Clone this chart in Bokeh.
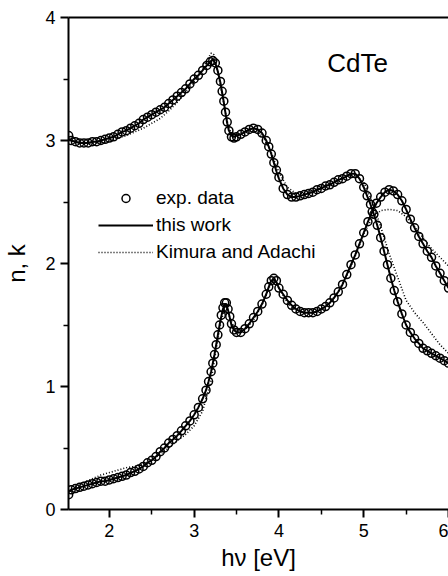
from bokeh.plotting import figure
from bokeh.models import (ColumnDataSource, FixedTicker, LinearAxis, Legend,
                          LegendItem, Label, Range1d)
from bokeh.embed import file_html
from bokeh.resources import INLINE

# ---------------- data ----------------
e_n = [1.52, 1.55, 1.60, 1.65, 1.70, 1.75, 1.80, 1.85, 1.90, 1.95,
       2.00, 2.05, 2.10, 2.15, 2.20, 2.25, 2.30, 2.35, 2.40, 2.45,
       2.50, 2.55, 2.60, 2.65, 2.70, 2.75, 2.80, 2.85, 2.90, 2.95,
       3.00, 3.05, 3.10, 3.15, 3.19, 3.22, 3.25, 3.28, 3.31, 3.33,
       3.35, 3.37, 3.39, 3.41, 3.44, 3.47, 3.50, 3.55, 3.60, 3.65,
       3.70, 3.75, 3.80, 3.85, 3.88, 3.91, 3.94, 3.97, 4.00, 4.05,
       4.10, 4.15, 4.20, 4.25, 4.30, 4.35, 4.40, 4.45, 4.50, 4.55,
       4.60, 4.65, 4.70, 4.75, 4.80, 4.85, 4.90, 4.95, 5.00, 5.04,
       5.08, 5.12, 5.16, 5.20, 5.24, 5.28, 5.32, 5.36, 5.40, 5.45,
       5.50, 5.55, 5.60, 5.65, 5.70, 5.75, 5.80, 5.85, 5.90, 5.95,
       6.00]
n_exp = [3.04, 3.00, 2.99, 2.98, 2.98, 2.98, 2.99, 2.99, 3.00, 3.01,
         3.02, 3.03, 3.05, 3.07, 3.08, 3.10, 3.12, 3.14, 3.17, 3.19,
         3.21, 3.23, 3.25, 3.27, 3.30, 3.33, 3.36, 3.39, 3.42, 3.46,
         3.50, 3.53, 3.57, 3.61, 3.64, 3.65, 3.63, 3.57, 3.48, 3.40,
         3.32, 3.23, 3.15, 3.08, 3.03, 3.02, 3.03, 3.05, 3.07, 3.09,
         3.10, 3.09, 3.06, 3.00, 2.95, 2.89, 2.82, 2.76, 2.70, 2.61,
         2.56, 2.54, 2.54, 2.55, 2.56, 2.57, 2.58, 2.60, 2.61, 2.63,
         2.64, 2.66, 2.68, 2.69, 2.71, 2.73, 2.73, 2.69, 2.62, 2.55,
         2.48, 2.40, 2.31, 2.21, 2.10, 1.99, 1.88, 1.78, 1.69, 1.59,
         1.50, 1.44, 1.39, 1.35, 1.31, 1.29, 1.27, 1.25, 1.23, 1.21,
         1.19]
n_fit = [3.01, 3.00, 2.99, 2.98, 2.98, 2.98, 2.99, 2.99, 3.00, 3.01,
         3.02, 3.03, 3.05, 3.07, 3.08, 3.10, 3.12, 3.14, 3.17, 3.19,
         3.21, 3.23, 3.25, 3.27, 3.30, 3.33, 3.36, 3.39, 3.42, 3.46,
         3.50, 3.53, 3.57, 3.61, 3.64, 3.66, 3.63, 3.56, 3.47, 3.39,
         3.31, 3.22, 3.14, 3.08, 3.04, 3.03, 3.04, 3.05, 3.07, 3.09,
         3.10, 3.09, 3.06, 3.00, 2.95, 2.89, 2.82, 2.75, 2.69, 2.61,
         2.56, 2.54, 2.54, 2.55, 2.56, 2.57, 2.58, 2.60, 2.61, 2.63,
         2.64, 2.66, 2.68, 2.69, 2.71, 2.73, 2.73, 2.69, 2.62, 2.55,
         2.48, 2.40, 2.31, 2.21, 2.10, 1.99, 1.88, 1.78, 1.69, 1.59,
         1.50, 1.44, 1.39, 1.35, 1.31, 1.29, 1.27, 1.25, 1.23, 1.21,
         1.19]

e_k = [1.52, 1.55, 1.60, 1.65, 1.70, 1.75, 1.80, 1.85, 1.90, 1.95,
       2.00, 2.05, 2.10, 2.15, 2.20, 2.25, 2.30, 2.35, 2.40, 2.45,
       2.50, 2.55, 2.60, 2.65, 2.70, 2.75, 2.80, 2.85, 2.90, 2.95,
       3.00, 3.05, 3.10, 3.14, 3.17, 3.20, 3.22, 3.24, 3.26, 3.28,
       3.30, 3.32, 3.34, 3.36, 3.38, 3.40, 3.42, 3.44, 3.47, 3.50,
       3.55, 3.60, 3.65, 3.70, 3.75, 3.80, 3.85, 3.88, 3.91, 3.94,
       3.97, 4.00, 4.05, 4.10, 4.15, 4.20, 4.25, 4.30, 4.35, 4.40,
       4.45, 4.50, 4.55, 4.60, 4.65, 4.70, 4.75, 4.80, 4.85, 4.90,
       4.95, 5.00, 5.05, 5.10, 5.15, 5.20, 5.25, 5.30, 5.35, 5.40,
       5.45, 5.50, 5.55, 5.60, 5.65, 5.70, 5.75, 5.80, 5.85, 5.90,
       5.95, 6.00]
k_exp = [0.12, 0.16, 0.17, 0.18, 0.19, 0.20, 0.21, 0.22, 0.23, 0.23,
         0.24, 0.25, 0.26, 0.27, 0.28, 0.30, 0.31, 0.33, 0.35, 0.38,
         0.40, 0.43, 0.47, 0.50, 0.54, 0.57, 0.60, 0.64, 0.68, 0.72,
         0.77, 0.83, 0.90, 0.97, 1.04, 1.12, 1.19, 1.26, 1.34, 1.42,
         1.50, 1.58, 1.64, 1.68, 1.68, 1.63, 1.57, 1.51, 1.46, 1.44,
         1.44, 1.47, 1.51, 1.56, 1.61, 1.67, 1.75, 1.81, 1.86, 1.88,
         1.86, 1.80, 1.75, 1.70, 1.66, 1.63, 1.61, 1.60, 1.60, 1.60,
         1.61, 1.63, 1.65, 1.68, 1.72, 1.77, 1.83, 1.91, 1.99, 2.07,
         2.16, 2.25, 2.34, 2.42, 2.49, 2.54, 2.58, 2.60, 2.59, 2.56,
         2.51, 2.44, 2.36, 2.29, 2.22, 2.16, 2.10, 2.05, 1.98, 1.92,
         1.86, 1.80]
k_fit = [0.15, 0.16, 0.17, 0.18, 0.19, 0.20, 0.21, 0.22, 0.23, 0.23,
         0.24, 0.25, 0.26, 0.27, 0.28, 0.30, 0.31, 0.33, 0.35, 0.38,
         0.40, 0.43, 0.47, 0.50, 0.54, 0.57, 0.60, 0.64, 0.68, 0.72,
         0.77, 0.83, 0.90, 0.97, 1.04, 1.12, 1.19, 1.26, 1.34, 1.42,
         1.50, 1.57, 1.63, 1.67, 1.67, 1.62, 1.56, 1.50, 1.46, 1.44,
         1.44, 1.47, 1.51, 1.56, 1.61, 1.67, 1.75, 1.81, 1.86, 1.87,
         1.85, 1.80, 1.75, 1.70, 1.66, 1.63, 1.61, 1.60, 1.60, 1.60,
         1.61, 1.63, 1.65, 1.68, 1.72, 1.77, 1.83, 1.91, 1.99, 2.07,
         2.16, 2.25, 2.34, 2.42, 2.49, 2.54, 2.58, 2.60, 2.59, 2.56,
         2.51, 2.44, 2.36, 2.29, 2.22, 2.16, 2.10, 2.05, 1.98, 1.92,
         1.86, 1.80]

e_km_n = [1.52, 1.6, 1.7, 1.8, 1.9, 2.0, 2.1, 2.2, 2.3, 2.4, 2.5, 2.6, 2.7,
          2.8, 2.9, 3.0, 3.1, 3.15, 3.2, 3.23, 3.26, 3.3, 3.35, 3.4, 3.45,
          3.5, 3.6, 3.7, 3.8, 3.9, 4.0, 4.1, 4.2, 4.3, 4.4, 4.5, 4.6, 4.7,
          4.8, 4.9, 5.0, 5.1, 5.2, 5.3, 5.4, 5.5, 5.6, 5.7, 5.8, 5.9, 6.0]
n_km = [3.00, 2.99, 2.98, 2.98, 2.98, 2.99, 3.02, 3.04, 3.07, 3.10, 3.14,
        3.18, 3.24, 3.31, 3.39, 3.48, 3.58, 3.65, 3.71, 3.70, 3.62, 3.48,
        3.30, 3.12, 3.04, 3.04, 3.07, 3.08, 3.04, 2.92, 2.74, 2.62, 2.57,
        2.57, 2.59, 2.62, 2.65, 2.68, 2.71, 2.72, 2.66, 2.50, 2.30, 2.08,
        1.89, 1.70, 1.60, 1.52, 1.43, 1.34, 1.27]

e_km_k = [1.52, 1.6, 1.7, 1.8, 1.9, 2.0, 2.1, 2.2, 2.3, 2.4, 2.5, 2.6, 2.7,
          2.8, 2.9, 3.0, 3.1, 3.2, 3.25, 3.3, 3.35, 3.4, 3.45, 3.5, 3.6,
          3.7, 3.8, 3.9, 3.95, 4.0, 4.1, 4.2, 4.3, 4.4, 4.5, 4.6, 4.7, 4.8,
          4.9, 5.0, 5.1, 5.2, 5.3, 5.4, 5.5, 5.6, 5.7, 5.8, 5.9, 6.0]
k_km = [0.14, 0.18, 0.22, 0.25, 0.28, 0.30, 0.32, 0.34, 0.35, 0.37, 0.40,
        0.45, 0.50, 0.56, 0.61, 0.68, 0.80, 1.05, 1.26, 1.47, 1.62, 1.60,
        1.51, 1.45, 1.46, 1.54, 1.66, 1.83, 1.87, 1.80, 1.68, 1.62, 1.60,
        1.60, 1.63, 1.68, 1.77, 1.90, 2.06, 2.24, 2.37, 2.43, 2.44, 2.43,
        2.38, 2.30, 2.21, 2.12, 2.05, 1.98]

x_ticks = [2, 3, 4, 5, 6]
x_minor = [2.5, 3.5, 4.5, 5.5]
y_ticks = [0, 1, 2, 3, 4]
y_minor = [0.5, 1.5, 2.5, 3.5]
legend_labels = ["exp. data", "this work", "Kimura and Adachi"]
title_text = "CdTe"

FONT = "Liberation Sans"

# ---------------- figure ----------------
p = figure(width=448, height=576, output_backend="svg", toolbar_location=None,
           x_range=Range1d(1.518, 6.0), y_range=Range1d(0, 4),
           min_border_left=67, min_border_right=0, min_border_top=17,
           min_border_bottom=67)
p.outline_line_color = None
p.grid.visible = False
p.background_fill_color = "white"
p.border_fill_color = "white"

src_n = ColumnDataSource(dict(x=e_n, y=n_exp, f=n_fit))
src_k = ColumnDataSource(dict(x=e_k, y=k_exp, f=k_fit))
src_kn = ColumnDataSource(dict(x=e_km_n, y=n_km))
src_kk = ColumnDataSource(dict(x=e_km_k, y=k_km))

sc_n = p.scatter("x", "y", source=src_n, marker="circle", size=8,
                 fill_color=None, line_color="black", line_width=1.5)
sc_k = p.scatter("x", "y", source=src_k, marker="circle", size=8,
                 fill_color=None, line_color="black", line_width=1.5)
ln_n = p.line("x", "f", source=src_n, line_color="black", line_width=2)
ln_k = p.line("x", "f", source=src_k, line_color="black", line_width=2)
kd_n = p.line("x", "y", source=src_kn, line_color="black", line_width=1.6,
              line_dash="1 2")
kd_k = p.line("x", "y", source=src_kk, line_color="black", line_width=1.6,
              line_dash="1 2")

# axes
xa = p.xaxis[0]
xa.ticker = FixedTicker(ticks=x_ticks, minor_ticks=x_minor)
ya = p.yaxis[0]
ya.ticker = FixedTicker(ticks=y_ticks, minor_ticks=y_minor)
for ax in (xa, ya):
    ax.axis_line_width = 2
    ax.major_tick_line_width = 2
    ax.minor_tick_line_width = 1.5
    ax.major_tick_in = 0
    ax.major_tick_out = 8
    ax.minor_tick_in = 0
    ax.minor_tick_out = 5
    ax.major_label_text_font = FONT
    ax.major_label_text_font_size = "18px"
    ax.major_label_text_color = "black"
    ax.axis_label_text_font = FONT
    ax.axis_label_text_font_size = "24px"
    ax.axis_label_text_font_style = "normal"
    ax.axis_label_text_color = "black"
xa.axis_label = "h\u03bd [eV]"
ya.axis_label = "n, k"
xa.major_label_standoff = 6
xa.axis_label_standoff = 4
ya.major_label_standoff = 5
ya.axis_label_standoff = 12

top = LinearAxis(ticker=FixedTicker(ticks=[]), major_label_text_font_size="0px",
                 axis_line_width=2, major_tick_line_color=None,
                 minor_tick_line_color=None)
p.add_layout(top, "above")

legend = Legend(items=[LegendItem(label=legend_labels[0], renderers=[sc_n]),
                       LegendItem(label=legend_labels[1], renderers=[ln_n]),
                       LegendItem(label=legend_labels[2], renderers=[kd_n])],
                location=(30, 246), orientation="vertical",
                glyph_width=55, glyph_height=20, label_height=20,
                label_standoff=3, spacing=5, padding=0, margin=0,
                border_line_color=None, background_fill_alpha=0,
                label_text_font=FONT, label_text_font_size="19px",
                label_text_color="black")
p.add_layout(legend)

p.add_layout(Label(x=4.57, y=3.63, text=title_text, text_font=FONT,
                   text_font_size="26px", text_baseline="middle",
                   text_color="black"))

open("out.html", "w").write(file_html(p, INLINE))
